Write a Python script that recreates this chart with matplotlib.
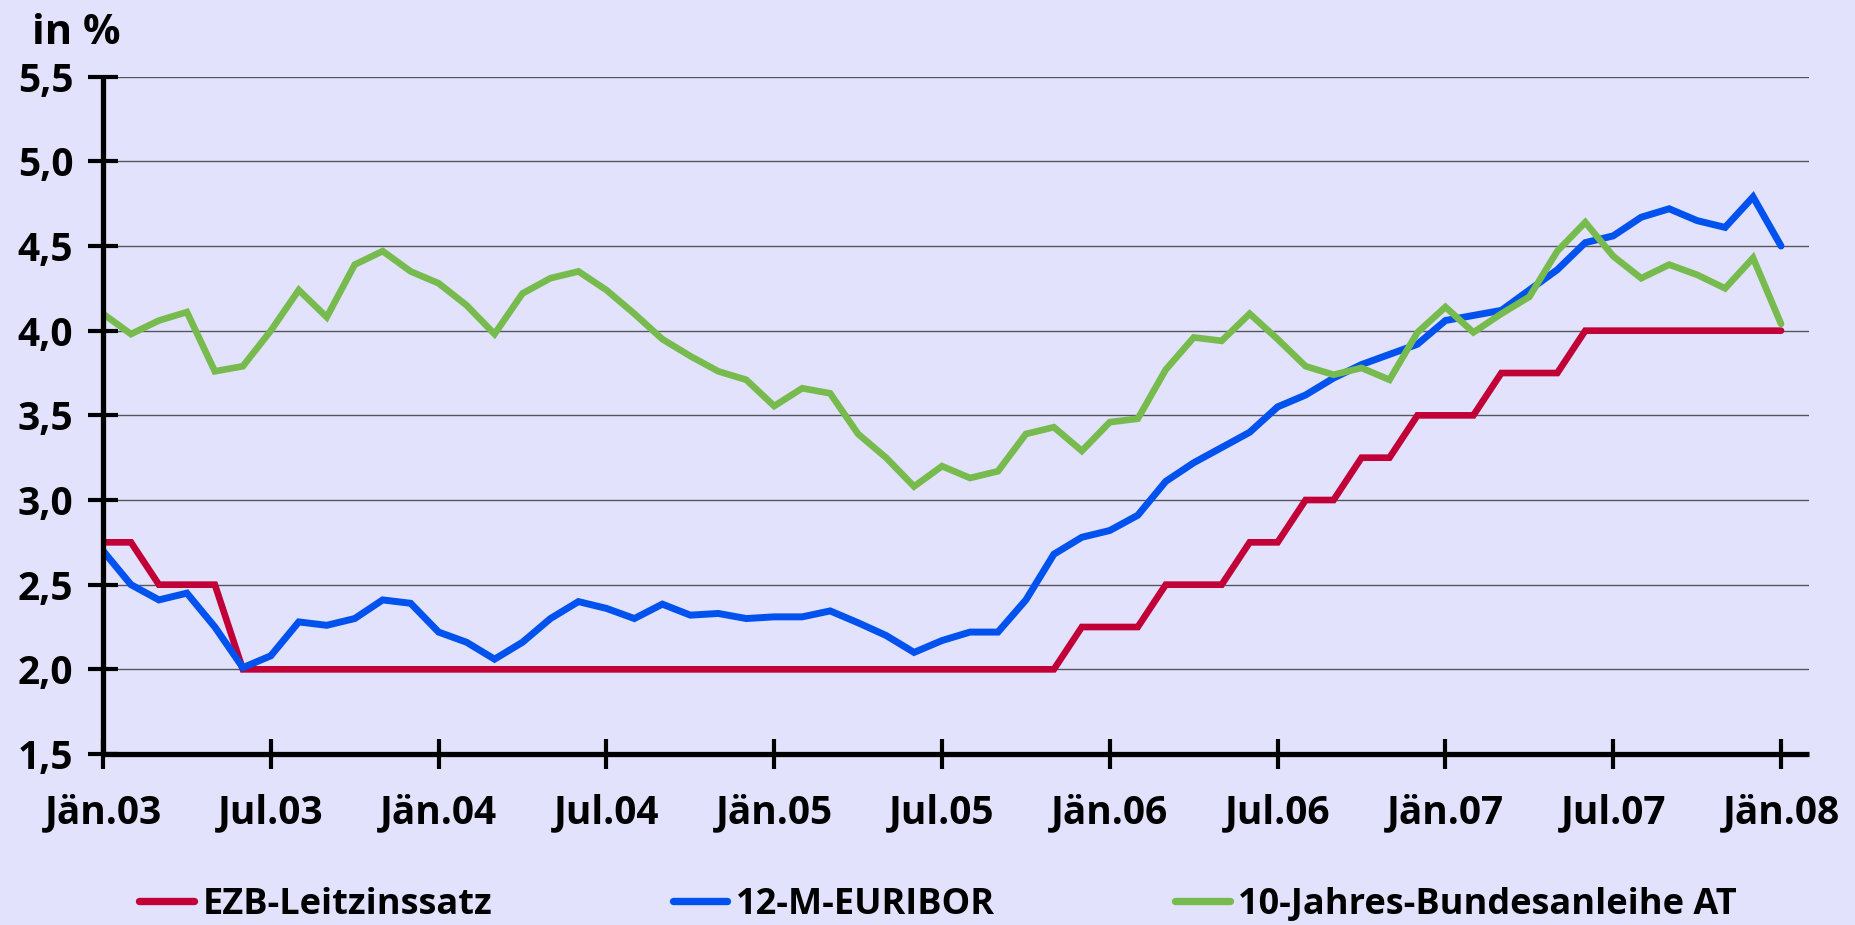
import matplotlib
matplotlib.use('Agg')
import matplotlib.pyplot as plt
import numpy as np

# ---- data (monthly, Jan 2003 .. Jan 2008) ----
x_tick_labels = ['Jän.03', 'Jul.03', 'Jän.04', 'Jul.04', 'Jän.05', 'Jul.05',
                 'Jän.06', 'Jul.06', 'Jän.07', 'Jul.07', 'Jän.08']

ezb = [2.75, 2.75, 2.50, 2.50, 2.50, 2.00, 2.00, 2.00, 2.00, 2.00,
       2.00, 2.00, 2.00, 2.00, 2.00, 2.00, 2.00, 2.00, 2.00, 2.00,
       2.00, 2.00, 2.00, 2.00, 2.00, 2.00, 2.00, 2.00, 2.00, 2.00,
       2.00, 2.00, 2.00, 2.00, 2.00, 2.25, 2.25, 2.25, 2.50, 2.50,
       2.50, 2.75, 2.75, 3.00, 3.00, 3.25, 3.25, 3.50, 3.50, 3.50,
       3.75, 3.75, 3.75, 4.00, 4.00, 4.00, 4.00, 4.00, 4.00, 4.00,
       4.00]

euribor = [2.70, 2.50, 2.41, 2.45, 2.25, 2.01, 2.08, 2.28, 2.26, 2.30,
           2.41, 2.39, 2.22, 2.16, 2.06, 2.16, 2.30, 2.40, 2.36, 2.30,
           2.385, 2.32, 2.33, 2.30, 2.31, 2.31, 2.345, 2.275, 2.20, 2.10,
           2.17, 2.22, 2.22, 2.41, 2.68, 2.78, 2.82, 2.91, 3.11, 3.22,
           3.31, 3.40, 3.55, 3.62, 3.72, 3.80, 3.86, 3.92, 4.06, 4.09,
           4.12, 4.24, 4.36, 4.52, 4.56, 4.67, 4.72, 4.65, 4.61, 4.79,
           4.50]

bund = [4.10, 3.98, 4.06, 4.11, 3.76, 3.79, 4.00, 4.24, 4.08, 4.39,
        4.47, 4.35, 4.28, 4.15, 3.98, 4.22, 4.31, 4.35, 4.24, 4.10,
        3.95, 3.85, 3.76, 3.71, 3.555, 3.66, 3.63, 3.39, 3.25, 3.08,
        3.20, 3.13, 3.17, 3.39, 3.43, 3.29, 3.46, 3.48, 3.77, 3.96,
        3.94, 4.10, 3.95, 3.79, 3.74, 3.78, 3.71, 3.99, 4.14, 3.99,
        4.10, 4.20, 4.47, 4.64, 4.44, 4.31, 4.39, 4.33, 4.25, 4.43,
        4.04]

series_names = ['EZB-Leitzinssatz', '12-M-EURIBOR', '10-Jahres-Bundesanleihe AT']
y_ticks = [1.5, 2.0, 2.5, 3.0, 3.5, 4.0, 4.5, 5.0, 5.5]
y_tick_labels = ['1,5', '2,0', '2,5', '3,0', '3,5', '4,0', '4,5', '5,0', '5,5']

# ---- style ----
BG = '#E2E2FC'
RED = '#C00037'
BLUE = '#0052EE'
GREEN = '#77BB4E'

plt.rcParams['font.family'] = ['Open Sans', 'DejaVu Sans']
plt.rcParams['font.weight'] = 'bold'

W, H = 1856, 925
fig = plt.figure(figsize=(W / 100, H / 100), dpi=100, facecolor=BG)
left, right, top, bottom = 103, 1809, 76.7, 754
ax = fig.add_axes([left / W, 1 - bottom / H, (right - left) / W, (bottom - top) / H],
                  facecolor=BG)

x = np.arange(len(ezb))
ax.plot(x, ezb, color=RED, lw=4.8, label=series_names[0],
        solid_capstyle='round', solid_joinstyle='miter', zorder=3)
ax.plot(x, euribor, color=BLUE, lw=5.0, label=series_names[1],
        solid_capstyle='round', solid_joinstyle='miter', zorder=4)
ax.plot(x, bund, color=GREEN, lw=4.8, label=series_names[2],
        solid_capstyle='round', solid_joinstyle='miter', zorder=5)

ax.set_xlim(0, len(ezb))
ax.set_ylim(y_ticks[0], y_ticks[-1])
ax.set_yticks(y_ticks)
ax.set_yticklabels(y_tick_labels)
ax.set_xticks(np.arange(0, len(ezb), 6))
ax.set_xticklabels(x_tick_labels)

ax.grid(axis='y', color='#55555f', lw=1.0, zorder=1)
ax.grid(axis='x', visible=False)
ax.set_axisbelow(True)

for s in ['top', 'right']:
    ax.spines[s].set_visible(False)
for s in ['left', 'bottom']:
    ax.spines[s].set_color('black')
    ax.spines[s].set_linewidth(3.8)
    ax.spines[s].set_capstyle('butt')
    ax.spines[s].set_zorder(6)

ax.tick_params(axis='both', direction='inout', length=21, width=3,
               labelsize=28, colors='black')
ax.tick_params(axis='y', pad=11)
ax.tick_params(axis='x', pad=18)

fig.text(32 / W, 1 - 44 / H, 'in %', fontsize=30, fontweight='bold',
         ha='left', va='baseline')

leg = fig.legend(loc='center', bbox_to_anchor=(938 / W, 1 - 905 / H), ncol=3,
                 frameon=False, fontsize=26, handlelength=1.52,
                 handletextpad=0.22, columnspacing=5.0, borderpad=0)
for line in leg.get_lines():
    line.set_linewidth(5.3)
    line.set_solid_capstyle('round')

fig.savefig('out.png', dpi=100, facecolor=BG)
